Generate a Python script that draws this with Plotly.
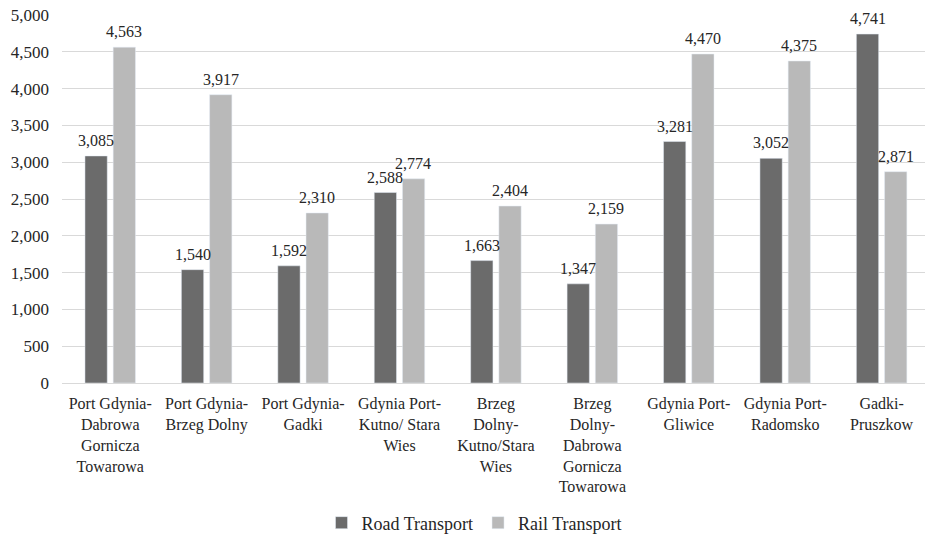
import plotly.graph_objects as go

routes = [
    "Port Gdynia-<br>Dabrowa<br>Gornicza<br>Towarowa",
    "Port Gdynia-<br>Brzeg Dolny",
    "Port Gdynia-<br>Gadki",
    "Gdynia Port-<br>Kutno/ Stara<br>Wies",
    "Brzeg<br>Dolny-<br>Kutno/Stara<br>Wies",
    "Brzeg<br>Dolny-<br>Dabrowa<br>Gornicza<br>Towarowa",
    "Gdynia Port-<br>Gliwice",
    "Gdynia Port-<br>Radomsko",
    "Gadki-<br>Pruszkow",
]
road = [3085, 1540, 1592, 2588, 1663, 1347, 3281, 3052, 4741]
rail = [4563, 3917, 2310, 2774, 2404, 2159, 4470, 4375, 2871]

serif = "Times New Roman"
ink = "#262626"

fig = go.Figure()
fig.add_trace(go.Bar(x=routes, y=road, name="Road Transport", marker_color="#6b6b6b"))
fig.add_trace(go.Bar(x=routes, y=rail, name="Rail Transport", marker_color="#b9b9b9"))

# value labels drawn above each bar, on top of all bars
for series, shift in ((road, -14), (rail, 14)):
    for cat, val in zip(routes, series):
        fig.add_annotation(
            x=cat, y=val, xref="x", yref="y", xshift=shift, yshift=5,
            text=f"{val:,}", showarrow=False, yanchor="bottom",
            font=dict(size=16, family=serif, color=ink),
        )

fig.update_layout(
    width=925, height=538,
    margin=dict(l=62, r=0, t=15, b=155, autoexpand=False),
    paper_bgcolor="white", plot_bgcolor="white",
    barmode="group", bargap=0.415, bargroupgap=0.21,
    font=dict(family=serif, size=16, color=ink),
    showlegend=True,
    legend=dict(orientation="h", x=0.478, xanchor="center", y=-0.33, yanchor="top",
                font=dict(size=18, family=serif, color=ink), itemwidth=30),
)
fig.update_yaxes(
    range=[0, 5000], dtick=500, tickformat=",",
    showgrid=True, gridcolor="#d9d9d9", gridwidth=1,
    zeroline=False, showline=False, ticks="", automargin=False,
    ticklabelstandoff=12,
    tickfont=dict(size=17, family=serif, color=ink),
)
fig.update_xaxes(
    range=[-0.5, 8.45],
    showline=True, linecolor="#d9d9d9", linewidth=1, ticks="",
    tickangle=0, automargin=False, ticklabelstandoff=6,
    tickfont=dict(size=16, family=serif, color=ink),
)

fig.write_html("out.html")
